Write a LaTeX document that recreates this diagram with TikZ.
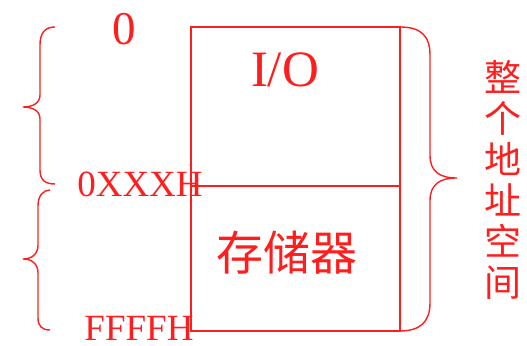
\documentclass[tikz,border=0pt]{standalone}
\usepackage{fontspec}
\setmainfont{Liberation Serif}
\newfontfamily\cjk{Noto Sans CJK SC}
\definecolor{addrred}{RGB}{255,30,30}
\tikzset{
  lbl/.style={inner sep=0pt, text=addrred},
  brc/.style={draw=addrred, line width=.7pt},
}
\begin{document}
\begin{tikzpicture}[x=.5pt,y=-.5pt,line width=.75pt]
		\useasboundingbox (0,0) rectangle (527,346);
		% the memory block
		\coordinate (tl) at (191,27); \coordinate (br) at (400,331);
		\coordinate (ml) at (191,186); \coordinate (mr) at (400,186);
		\draw[addrred] (tl) rectangle (br); \draw[addrred] (ml) -- (mr);
		\node[lbl,font=\fontsize{25.5}{27}\selectfont] (io) at (285,70) {I/O};
		\node[lbl,font=\cjk\fontsize{23.5}{25}\selectfont] (mem) at (287,253) {存储器};
		
		% addresses on the left
		\node[lbl,font=\fontsize{23.5}{25}\selectfont] (zero) at (124,29) {0};
		\node[lbl,font=\fontsize{18.5}{20}\selectfont] (xxxh) at (140,184) {0XXXH};
		\node[lbl,font=\fontsize{18.5}{20}\selectfont] (ffffh) at (139,328) {FFFFH};
		\draw[brc] (55,27) .. controls (45,27) and (40,33) .. (40,45) -- (40,95)
			.. controls (40,103) and (33,107) .. (23,107) .. controls (33,107) and (40,111) .. (40,119)
			-- (40,170) .. controls (40,180) and (45,184) .. (55,184);
		\draw[brc] (50,190) .. controls (43,190) and (38,196) .. (38,206) -- (38,245)
			.. controls (38,254) and (32,259) .. (23,259) .. controls (32,259) and (38,264) .. (38,273)
			-- (38,318) .. controls (38,326) and (42,330) .. (50,330);
		
		% whole address space
		\draw[brc] (400,27) .. controls (420,27) and (430,35) .. (430,55) -- (430,155)
			.. controls (430,172) and (440,178) .. (457,178) .. controls (440,178) and (430,184) .. (430,201)
			-- (430,303) .. controls (430,322) and (420,331) .. (400,331);
		\node[lbl,align=center,font=\cjk\fontsize{18.5}{20.5}\selectfont] (whole) at (503,180) {整\\个\\地\\址\\空\\间};
		\end{tikzpicture}
\end{document}
